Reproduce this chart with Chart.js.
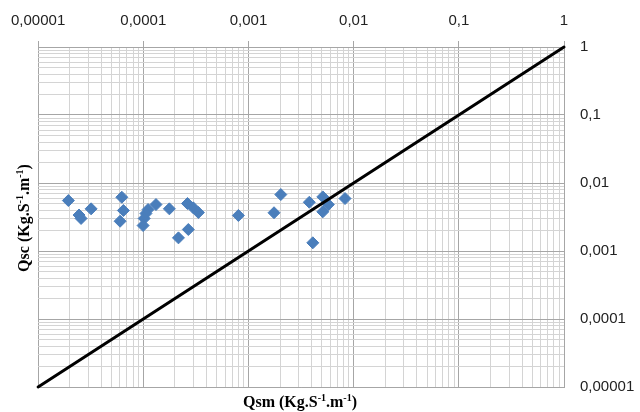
<!DOCTYPE html>
<html>
<head>
<meta charset="utf-8">
<script src="https://cdn.jsdelivr.net/npm/chart.js@4/dist/chart.umd.min.js"></script>
<style>
  body { margin: 0; background: #fff; }
</style>
</head>
<body>
<canvas id="qsChart" width="640" height="412"></canvas>
<script>
// measured sediment discharge (x) vs computed (y)
const qsm = [1.94e-5, 2.45e-5, 2.56e-5, 3.19e-5, 6.25e-5, 6.47e-5, 6.02e-5, 1.32e-4, 1.11e-4,
             1.06e-4, 1.02e-4, 9.96e-5, 1.77e-4, 2.63e-4, 2.99e-4, 3.34e-4, 2.68e-4, 2.16e-4,
             8.02e-4, 2.03e-3, 1.75e-3, 3.79e-3, 5.09e-3, 5.75e-3, 5.09e-3, 8.28e-3, 4.09e-3];
const qsc = [0.00552, 0.00338, 0.00301, 0.00417, 0.00617, 0.00394, 0.00274, 0.00482, 0.00407,
             0.00356, 0.00301, 0.00237, 0.00417, 0.00499, 0.00431, 0.00368, 0.00207, 0.00156,
             0.00333, 0.00676, 0.00365, 0.00521, 0.00625, 0.00482, 0.00377, 0.00591, 0.00132];

// 1:1 line
const lineX = [0.00001, 1];
const lineY = [0.00001, 1];

const decades = [0.00001, 0.0001, 0.001, 0.01, 0.1, 1];
const tickLabels = ['0,00001', '0,0001', '0,001', '0,01', '0,1', '1'];

const majorColor = '#a6a6a6';
const minorColor = '#d4d4d4';

function majorIndex(v) {
    return decades.findIndex(d => Math.abs(v - d) / d < 1e-6);
}

// log grid: 1..9 in every decade
function logTicks(scale) {
    const ticks = [];
    for (let i = 0; i < decades.length - 1; i++) {
        for (let m = 1; m <= 9; m++) {
            ticks.push({ value: m * decades[i] });
        }
    }
    ticks.push({ value: decades[decades.length - 1] });
    scale.ticks = ticks;
}

function gridColor(ctx) {
    if (!ctx.tick) return minorColor;
    return majorIndex(ctx.tick.value) >= 0 ? majorColor : minorColor;
}

function drawRich(ctx, parts, size) {
    const base = 'bold ' + size + 'px "Liberation Serif", serif';
    const sup = 'bold ' + Math.round(size * 0.62) + 'px "Liberation Serif", serif';
    let w = 0;
    parts.forEach(p => { ctx.font = p.sup ? sup : base; w += ctx.measureText(p.t).width; });
    let x = -w / 2;
    parts.forEach(p => {
        ctx.font = p.sup ? sup : base;
        ctx.fillText(p.t, x, p.sup ? -size * 0.38 : 0);
        x += ctx.measureText(p.t).width;
    });
}

const axisTitles = {
    id: 'axisTitles',
    afterDraw(chart) {
        const ctx = chart.ctx;
        ctx.save();
        ctx.fillStyle = '#000';
        ctx.textBaseline = 'alphabetic';
        ctx.textAlign = 'left';
        ctx.save();
        ctx.translate(300, 407);
        drawRich(ctx, [{ t: 'Qsm (Kg.S' }, { t: '-1', sup: true }, { t: '.m' }, { t: '-1', sup: true }, { t: ')' }], 16);
        ctx.restore();
        ctx.save();
        ctx.translate(29, 218);
        ctx.rotate(-Math.PI / 2);
        drawRich(ctx, [{ t: 'Qsc (Kg.S' }, { t: '-1', sup: true }, { t: '.m' }, { t: '-1', sup: true }, { t: ')' }], 16);
        ctx.restore();
        ctx.restore();
    }
};

const ctx = document.getElementById('qsChart').getContext('2d');
const qsChart = new Chart(ctx, {
    type: 'scatter',
    data: {
        datasets: [{
            label: '1:1',
            data: lineX.map((x, i) => ({ x: x, y: lineY[i] })),
            showLine: true,
            borderColor: '#000',
            borderWidth: 3,
            borderCapStyle: 'round',
            pointRadius: 0,
            clip: false
        }, {
            label: 'Qsc',
            data: qsm.map((x, i) => ({ x: x, y: qsc[i] })),
            pointStyle: 'rectRot',
            pointRadius: 6,
            backgroundColor: '#4a7ebb',
            borderColor: '#4a7ebb',
            borderWidth: 1
        }]
    },
    options: {
        responsive: false,
        animation: false,
        layout: {
            padding: { left: 38, bottom: 24, top: 0, right: 0 }
        },
        scales: {
            x: {
                type: 'logarithmic',
                position: 'top',
                min: 0.00001,
                max: 1,
                afterBuildTicks: logTicks,
                afterFit: s => { s.height = 47; },
                border: { color: majorColor },
                grid: {
                    color: gridColor,
                    tickLength: 6,
                    tickColor: c => (c.tick && majorIndex(c.tick.value) >= 0) ? majorColor : 'rgba(0,0,0,0)'
                },
                ticks: {
                    autoSkip: false,
                    maxRotation: 0,
                    minRotation: 0,
                    padding: 11,
                    color: '#222',
                    font: { family: '"Liberation Sans", Arial, sans-serif', size: 15 },
                    callback: v => { const i = majorIndex(v); return i >= 0 ? tickLabels[i] : ''; }
                }
            },
            y: {
                type: 'logarithmic',
                position: 'right',
                min: 0.00001,
                max: 1,
                afterBuildTicks: logTicks,
                afterFit: s => { s.width = 76; },
                border: { color: majorColor },
                grid: {
                    color: gridColor,
                    drawTicks: false
                },
                ticks: {
                    autoSkip: false,
                    padding: 16,
                    color: '#222',
                    font: { family: '"Liberation Sans", Arial, sans-serif', size: 15 },
                    callback: v => { const i = majorIndex(v); return i >= 0 ? tickLabels[i] : ''; }
                }
            }
        },
        plugins: {
            legend: { display: false },
            tooltip: { enabled: false }
        }
    },
    plugins: [axisTitles]
});
</script>
</body>
</html>
